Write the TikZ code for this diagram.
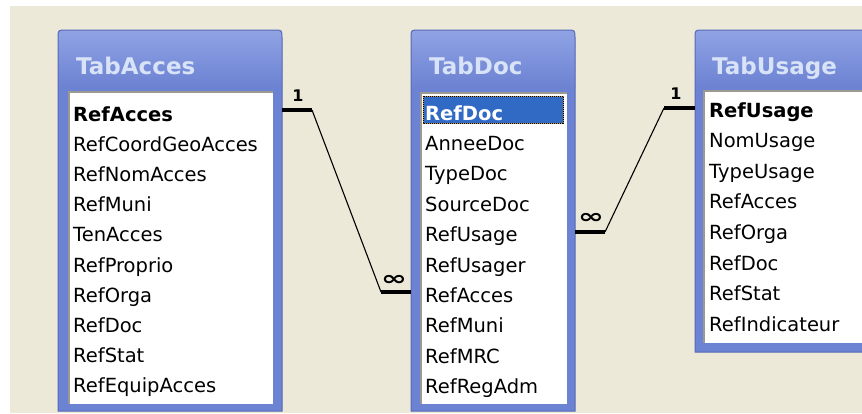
\documentclass[tikz,border=0pt]{standalone}
\usepackage{fontspec}
\setmainfont{DejaVu Sans}
\usepackage{graphicx}
\definecolor{bgbeige}{HTML}{ECE9D8}
\definecolor{framefill}{HTML}{6C82D2}
\definecolor{framehi}{HTML}{8FA3E4}
\definecolor{frameedge}{HTML}{5868B8}
\definecolor{titlecol}{HTML}{D8E3F7}
\definecolor{panelshadow}{HTML}{9C9A90}
\definecolor{selblue}{HTML}{316AC5}
\definecolor{selframe}{HTML}{C89A3C}
\newcommand\tabframe[4]{%
  \fill[framefill] (#1,#4) -- (#1,#2+8) .. controls (#1,#2) .. (#1+8,#2) -- (#3-8,#2) .. controls (#3,#2) .. (#3,#2+8) -- (#3,#4) -- cycle;
  \shade[top color=framehi, bottom color=framefill] (#1,#2+58) -- (#1,#2+8) .. controls (#1,#2) .. (#1+8,#2) -- (#3-8,#2) .. controls (#3,#2) .. (#3,#2+8) -- (#3,#2+58) -- cycle;
  \draw[frameedge, line width=1pt] (#1,#4) -- (#1,#2+8) .. controls (#1,#2) .. (#1+8,#2) -- (#3-8,#2) .. controls (#3,#2) .. (#3,#2+8) -- (#3,#4) -- cycle;
}
\newcommand\tabpanel[4]{%
  \fill[white] (#1,#2) rectangle (#3,#4);
  \draw[panelshadow, line width=2.5pt] (#1+1,#4) -- (#1+1,#2+1) -- (#3,#2+1);
}
\tikzset{
  field/.style={anchor=base west, inner sep=0pt, font=\fontsize{19.5}{22}\selectfont},
  keyfield/.style={field, font=\fontsize{19.5}{22}\selectfont\bfseries},
  tabtitle/.style={anchor=base west, inner sep=0pt, text=titlecol, font=\fontsize{23}{27}\selectfont\bfseries},
  bar/.style={line width=4pt, line cap=butt},
  link/.style={line width=1.1pt},
  one/.style={inner sep=0pt, font=\fontsize{16}{18}\selectfont\bfseries},
  many/.style={inner sep=0pt, font=\fontsize{20}{21}\selectfont\bfseries}
}
\begin{document}
\begin{tikzpicture}[x=1pt,y=-1pt]
\useasboundingbox (0,0) rectangle (862,413);
\clip (0,0) rectangle (862,413);
\fill[white] (0,0) rectangle (862,413);
\fill[bgbeige] (10,6) rectangle (862,413);

% frames
\tabframe{58}{30}{282}{411}
\tabframe{411}{30}{575}{411}
\tabframe{695}{30}{880}{352}
\tabpanel{68}{91}{273}{404}
\tabpanel{420}{92}{567}{404}
\tabpanel{703}{90}{880}{343}

% titles
\node[tabtitle] (tAcc) at (76,74) {TabAcces};
\node[tabtitle] (tDoc) at (429,74) {TabDoc};
\node[tabtitle] (tUse) at (712,74) {TabUsage};

% TabAcces fields
\node[keyfield] (acc0) at (73,121) {RefAcces};
\foreach \t [count=\i] in {RefCoordGeoAcces,RefNomAcces,RefMuni,TenAcces,RefProprio,RefOrga,RefDoc,RefStat,RefEquipAcces}
  \node[field] (acc\i) at (73,121+30.2*\i) {\t};

% TabDoc fields
\fill[selblue] (423,96) rectangle (563,123);
\draw[selframe, line width=1pt] (423,96) rectangle (563,123);
\draw[black, line width=1pt, dash pattern=on 1pt off 1pt] (423,96) rectangle (563,123);
\node[keyfield, text=white] (doc0) at (425,120) {RefDoc};
\foreach \t [count=\i] in {AnneeDoc,TypeDoc,SourceDoc,RefUsage,RefUsager,RefAcces,RefMuni,RefMRC,RefRegAdm}
  \node[field] (doc\i) at (425,120+30.4*\i) {\t};

% TabUsage fields
\node[keyfield] (use0) at (709,117) {RefUsage};
\foreach \t [count=\i] in {NomUsage,TypeUsage,RefAcces,RefOrga,RefDoc,RefStat,RefIndicateur}
  \node[field] (use\i) at (709,117+30.6*\i) {\t};

% relationship TabAcces -- TabDoc
\coordinate (r1a) at (282,110);
\coordinate (r1b) at (312,110);
\coordinate (r1c) at (381,292);
\coordinate (r1d) at (411,292);
\draw[bar] (r1a) -- (r1b);
\draw[link] (r1b) -- (r1c);
\draw[bar] (r1c) -- (r1d);
\node[one] (one1) at (298,96) {1};
\node[many] (many1) at (394,280) {\scalebox{1.55}[1]{∞}};

% relationship TabDoc -- TabUsage
\coordinate (r2a) at (575,232);
\coordinate (r2b) at (605,232);
\coordinate (r2c) at (664,108);
\coordinate (r2d) at (695,108);
\draw[bar] (r2a) -- (r2b);
\draw[link] (r2b) -- (r2c);
\draw[bar] (r2c) -- (r2d);
\node[one] (one2) at (676,94) {1};
\node[many] (many2) at (591,218) {\scalebox{1.55}[1]{∞}};
\end{tikzpicture}
\end{document}
